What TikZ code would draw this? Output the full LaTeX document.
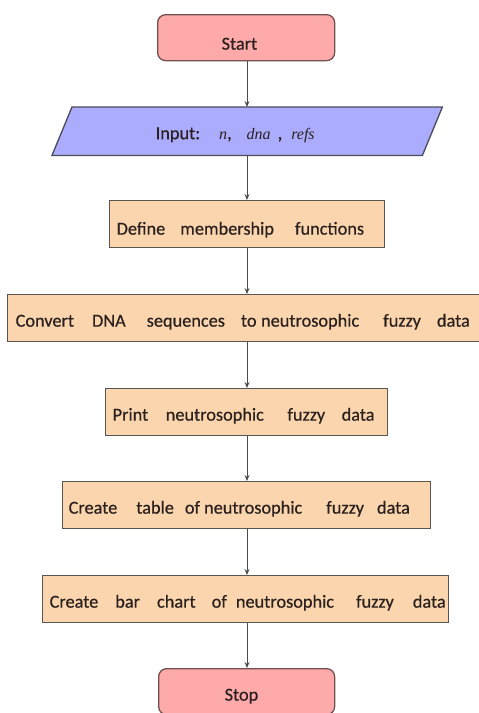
\documentclass[tikz,border=0pt]{standalone}
\usepackage{fontspec}
\setmainfont{Carlito}[FakeBold=0.5]
\newfontfamily\serifit{Liberation Serif}
\usetikzlibrary{arrows.meta,backgrounds}

\definecolor{termfill}{RGB}{255,170,170}
\definecolor{termline}{RGB}{115,80,80}
\definecolor{iofill}{RGB}{172,172,255}
\definecolor{ioline}{RGB}{75,75,90}
\definecolor{procfill}{RGB}{251,213,174}
\definecolor{procline}{RGB}{90,85,80}
\definecolor{inkdark}{RGB}{42,32,30}
\definecolor{arrowgray}{RGB}{75,75,75}

\tikzset{
  base/.style={inner sep=0pt, anchor=north west, text=inkdark,
    font=\fontsize{18.3}{20}\selectfont, text depth=0pt},
  term/.style={base, draw=termline, fill=termfill, line width=1.3pt,
    rounded corners=8pt, minimum height=46pt},
  iobox/.style={base, minimum height=48pt, text height=16pt},
  proc/.style={base, draw=procline, fill=procfill, line width=1.3pt,
    minimum height=47pt, text height=17pt},
  flow/.style={draw=arrowgray, line width=1pt,
    -{Stealth[length=6pt,width=5pt]}},
}
\newcommand{\ivar}[1]{{\serifit\itshape\fontsize{16}{18}\selectfont #1}}

\begin{document}
\begin{tikzpicture}[x=1pt,y=-1pt]
\useasboundingbox (0,0) rectangle (479,713);
\clip (0,0) rectangle (479,713);

% vertical axis shared by all connectors
\coordinate (axis) at (247,0);

% terminal: start
\node[term, text height=24pt] (start) at (157,14)
  {\makebox[177pt][l]{\hspace{64pt}Start}};

% input / output parallelogram
\node[iobox] (input) at (62,107)
  {\makebox[370pt][l]{\hspace{93.5pt}Input:\hspace{19pt}\ivar{n},\hspace{15pt}\ivar{dna}\hspace{7pt},\hspace{9pt}\ivar{refs}}};
\begin{scope}[on background layer]
  \draw[ioline, fill=iofill, line width=1.3pt, line join=miter]
    ([xshift=10pt]input.north west) -- ([xshift=10pt]input.north east)
    -- ([xshift=-10pt]input.south east) -- ([xshift=-10pt]input.south west)
    -- cycle;
\end{scope}

% process steps
\node[proc, text height=21pt] (define) at (109,200)
  {\makebox[275pt][l]{\hspace{7pt}Define\hspace{15pt}membership\hspace{21pt}functions}};

\node[proc] (convert) at (7,294)
  {\makebox[490pt][l]{\hspace{8pt}Convert\hspace{18pt}DNA\hspace{21pt}sequences\hspace{16pt}to\hspace{4.5pt}neutrosophic\hspace{24pt}fuzzy\hspace{16pt}data}};

\node[proc] (print) at (105,388)
  {\makebox[282pt][l]{\hspace{7pt}Print\hspace{17.5pt}neutrosophic\hspace{23.5pt}fuzzy\hspace{16.5pt}data}};

\node[proc] (table) at (62,481)
  {\makebox[368pt][l]{\hspace{6pt}Create\hspace{19pt}table\hspace{11pt}of\hspace{4pt}neutrosophic\hspace{24pt}fuzzy\hspace{13pt}data}};

\node[proc] (chart) at (42,575)
  {\makebox[406pt][l]{\hspace{7pt}Create\hspace{17pt}bar\hspace{17pt}chart\hspace{16pt}of\hspace{9pt}neutrosophic\hspace{22pt}fuzzy\hspace{19pt}data}};

% terminal: stop
\node[term, text height=18pt] (stop) at (158,668)
  {\makebox[176pt][l]{\hspace{66pt}Stop}};

% connectors
\draw[flow] (start.south -| axis) -- (input.north -| axis);
\draw[flow] (input.south -| axis) -- (define.north -| axis);
\draw[flow] (define.south -| axis) -- (convert.north -| axis);
\draw[flow] (convert.south -| axis) -- (print.north -| axis);
\draw[flow] (print.south -| axis) -- (table.north -| axis);
\draw[flow] (table.south -| axis) -- (chart.north -| axis);
\draw[flow] (chart.south -| axis) -- (stop.north -| axis);
\end{tikzpicture}
\end{document}
